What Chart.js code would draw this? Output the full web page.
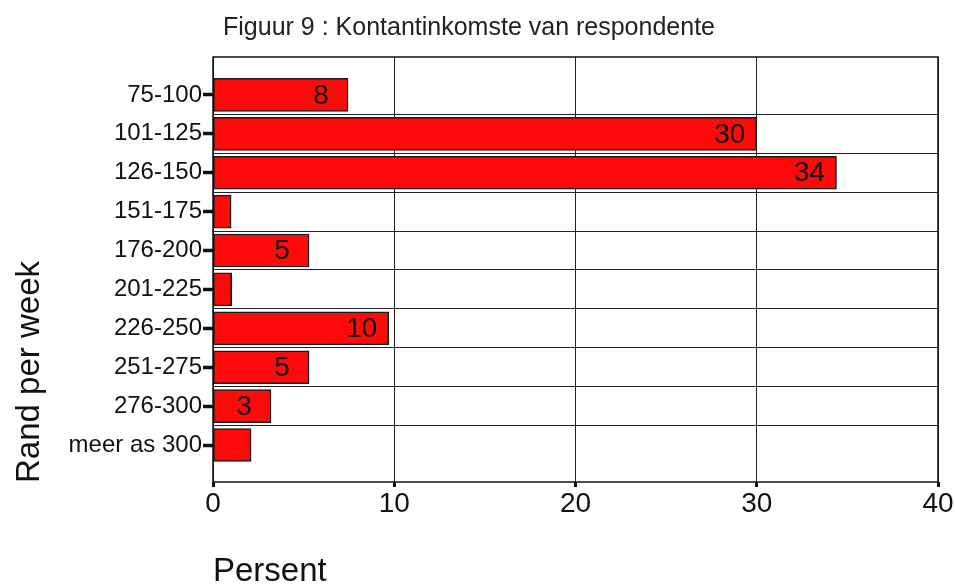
<!DOCTYPE html>
<html>
<head>
<meta charset="utf-8">
<script src="https://cdn.jsdelivr.net/npm/chart.js@4"></script>
<style>
  html, body { margin: 0; padding: 0; background: #fff; }
  #wrap { width: 955px; height: 585px; }
</style>
</head>
<body>
<div id="wrap"><canvas id="income-chart"></canvas></div>
<script>
const rangeLabels = ['75-100', '101-125', '126-150', '151-175', '176-200', '201-225', '226-250', '251-275', '276-300', 'meer as 300'];
const percentValues = [7.45, 30.0, 34.4, 1.0, 5.3, 1.03, 9.7, 5.3, 3.2, 2.1];
const valueLabels = ['8', '30', '34', '', '5', '', '10', '5', '3', ''];
const xTicks = [0, 10, 20, 30, 40];

const FONT = "'Liberation Sans Narrow', 'Liberation Sans', Arial, sans-serif";

const rows = rangeLabels.map((label, i) => ({ x: percentValues[i], y: i }));

const isRow = c => !!(c && c.tick && Number.isInteger(c.tick.value));

// frame around plot, axis titles, value labels
const extras = {
  id: 'extras',
  afterDatasetsDraw(chart) {
    const { ctx, chartArea: a } = chart;
    ctx.save();
    ctx.strokeStyle = '#111';
    ctx.lineWidth = 1.5;
    ctx.strokeRect(a.left, a.top, a.right - a.left, a.bottom - a.top);

    ctx.fillStyle = '#111';
    ctx.font = '28px ' + FONT;
    ctx.textAlign = 'center';
    ctx.textBaseline = 'middle';
    chart.getDatasetMeta(0).data.forEach((bar, i) => {
      if (valueLabels[i]) ctx.fillText(valueLabels[i], bar.x - 27, bar.y + 1);
    });

    ctx.font = '33px ' + FONT;
    ctx.textAlign = 'left';
    ctx.fillText('Persent', a.left, a.bottom + 90);

    ctx.translate(a.left - 183, a.bottom - 110);
    ctx.rotate(-Math.PI / 2);
    ctx.textAlign = 'center';
    ctx.fillText('Rand per week', 0, 0);
    ctx.restore();
  }
};

new Chart(document.getElementById('income-chart').getContext('2d'), {
  type: 'bar',
  data: {
    datasets: [{
      data: rows,
      backgroundColor: '#ff0a0a',
      borderColor: '#1a1a1a',
      borderWidth: 1.5,
      borderSkipped: false,
      barThickness: 33
    }]
  },
  options: {
    indexAxis: 'y',
    responsive: true,
    maintainAspectRatio: false,
    animation: false,
    layout: { padding: { left: 0, right: 17, bottom: 63 } },
    plugins: {
      legend: { display: false },
      tooltip: { enabled: false },
      title: {
        display: true,
        text: 'Figuur 9 : Kontantinkomste van respondente',
        color: '#222',
        font: { family: FONT, size: 25, weight: 'normal' },
        padding: { top: 13, bottom: 14 }
      }
    },
    scales: {
      x: {
        type: 'linear',
        min: 0,
        max: 40,
        afterBuildTicks: s => { s.ticks = xTicks.map(v => ({ value: v })); },
        afterFit: s => { s.height = 40; },
        border: { display: false },
        grid: { color: '#222', lineWidth: 1, tickColor: '#111', tickWidth: 3, tickLength: 5 },
        ticks: { color: '#111', padding: 0, font: { family: FONT, size: 28 } }
      },
      y: {
        type: 'linear',
        reverse: true,
        offset: false,
        bounds: 'data',
        min: -0.975,
        max: 9.95,
        afterBuildTicks: s => {
          const t = [];
          rangeLabels.forEach((l, i) => {
            t.push({ value: i });
            if (i < rangeLabels.length - 1) t.push({ value: i + 0.5 });
          });
          s.ticks = t;
        },
        afterFit: s => { s.width = 213; },
        border: { display: false },
        grid: {
          offset: false,
          color: c => isRow(c) ? 'rgba(0,0,0,0)' : '#222',
          lineWidth: 1,
          tickColor: c => isRow(c) ? '#111' : 'rgba(0,0,0,0)',
          tickWidth: 3.5,
          tickLength: 10
        },
        ticks: {
          color: '#111',
          padding: 1,
          autoSkip: false,
          font: { family: FONT, size: 24 },
          callback: v => Number.isInteger(v) ? rangeLabels[v] : ''
        }
      }
    }
  },
  plugins: [extras]
});
</script>
</body>
</html>
